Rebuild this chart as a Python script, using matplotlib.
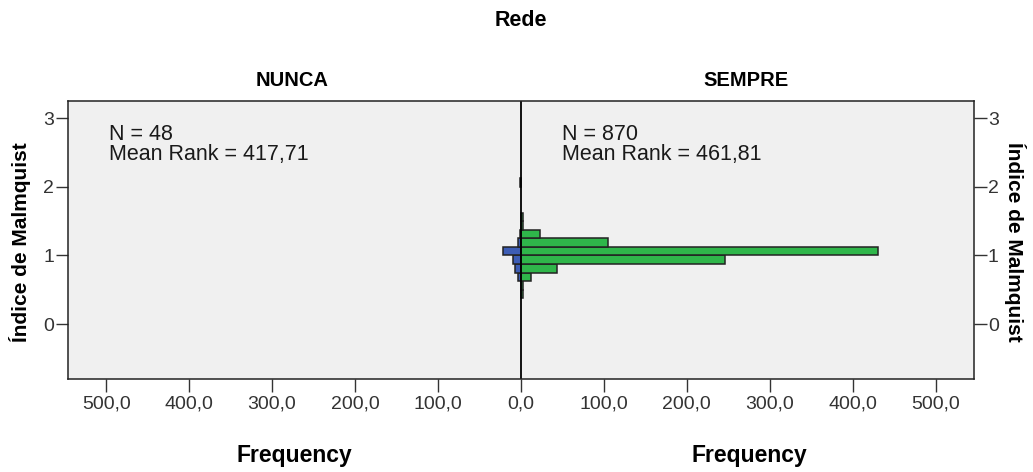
import matplotlib
matplotlib.use("Agg")
import matplotlib.pyplot as plt
import numpy as np

plt.rcParams['font.family'] = ['Liberation Sans', 'DejaVu Sans']

# histogram bins (lower edges, width 0.125) of Índice de Malmquist
bin_width = 0.125
bins_nunca = [0.625, 0.75, 0.875, 1.0, 1.125, 1.25, 2.0]
counts_nunca = [4, 7, 9, 22, 4, 1, 1]
bins_sempre = [0.375, 0.5, 0.625, 0.75, 0.875, 1.0, 1.125, 1.25, 1.375, 1.5]
counts_sempre = [2, 3, 12, 44, 246, 430, 105, 23, 3, 2]

groups = ['NUNCA', 'SEMPRE']
n_obs = [48, 870]
mean_ranks = ['417,71', '461,81']
freq_ticks = [500, 400, 300, 200, 100, 0, 100, 200, 300, 400, 500]
y_ticks = [0, 1, 2, 3]

fig = plt.figure(figsize=(10.33, 4.72), dpi=100)
ax = fig.add_axes([0.0658, 0.197, 0.877, 0.589])
ax.set_facecolor('#f0f0f0')

ax.barh(bins_nunca, -np.array(counts_nunca), height=bin_width, align='edge',
        color='#3d5db5', edgecolor='#222222', linewidth=1.1)
ax.barh(bins_sempre, counts_sempre, height=bin_width, align='edge',
        color='#2fb64a', edgecolor='#222222', linewidth=1.1)
ax.axvline(0, color='black', linewidth=1.3)

ax.set_xlim(-546, 546)
ax.set_ylim(-0.8, 3.25)

xt = [-500, -400, -300, -200, -100, 0, 100, 200, 300, 400, 500]
ax.set_xticks(xt)
ax.set_xticklabels([f"{v},0" for v in freq_ticks], fontsize=14, color='#333333')
ax.set_yticks(y_ticks)
ax.set_yticklabels([str(v) for v in y_ticks], fontsize=14, color='#333333')
ax.tick_params(axis='both', length=9, width=1, color='#333333')
ax.tick_params(axis='x', pad=3)
ax.tick_params(axis='y', left=True, right=True, labelleft=True, labelright=True, pad=1)
for s in ax.spines.values():
    s.set_color('#222222')
    s.set_linewidth(1.1)

fig.text(0.019, 0.487, 'Índice de Malmquist', rotation=90, fontsize=15,
         fontweight='bold', ha='center', va='center')
fig.text(0.983, 0.487, 'Índice de Malmquist', rotation=270, fontsize=15,
         fontweight='bold', ha='center', va='center')

# statistics text
ax.text(-496, 2.92, f"N = {n_obs[0]}\nMean Rank = {mean_ranks[0]}",
        fontsize=15.5, va='top', ha='left', linespacing=0.95, color='#1a1a1a')
ax.text(49, 2.92, f"N = {n_obs[1]}\nMean Rank = {mean_ranks[1]}",
        fontsize=15.5, va='top', ha='left', linespacing=0.95, color='#1a1a1a')

# titles
fig.text(0.504, 0.957, 'Rede', fontsize=15.5, fontweight='bold', ha='center', va='center')
fig.text(0.283, 0.83, groups[0], fontsize=14.5, fontweight='bold', ha='center', va='center')
fig.text(0.722, 0.83, groups[1], fontsize=14.5, fontweight='bold', ha='center', va='center')
fig.text(0.285, 0.036, 'Frequency', fontsize=16.5, fontweight='bold', ha='center', va='center')
fig.text(0.725, 0.036, 'Frequency', fontsize=16.5, fontweight='bold', ha='center', va='center')

fig.savefig('out.png', dpi=100)
